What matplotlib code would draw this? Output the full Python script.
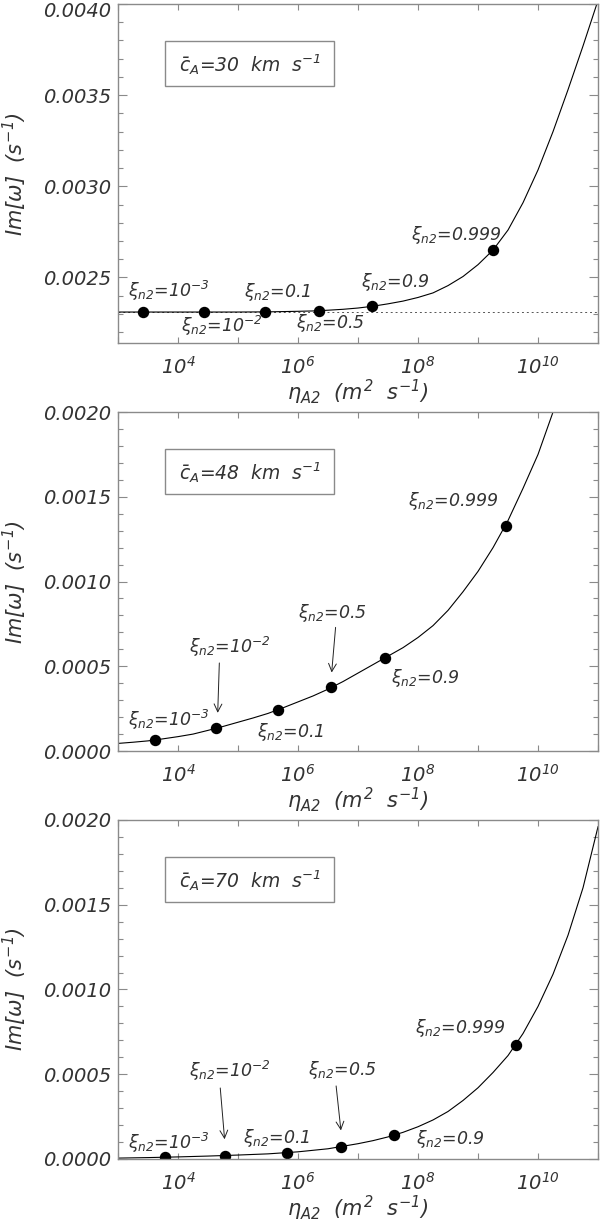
import numpy as np
import matplotlib
matplotlib.use("Agg")
import matplotlib.pyplot as plt
import matplotlib.ticker as mticker
import matplotlib.transforms as mtransforms
from matplotlib.patches import Rectangle

plt.rcParams['mathtext.fontset'] = 'custom'
plt.rcParams['mathtext.rm'] = 'DejaVu Sans:italic'
plt.rcParams['mathtext.it'] = 'DejaVu Sans:italic'
plt.rcParams['font.family'] = ['DejaVu Sans']

TXT = '#333333'
FRAME = '#8a8a8a'

# alfven speeds of the three panels
speeds = [30, 48, 70]

# labels of the marked points
xi_labels = [r'$\xi_{n2}$=10$^{-3}$', r'$\xi_{n2}$=10$^{-2}$', r'$\xi_{n2}$=0.1',
             r'$\xi_{n2}$=0.5', r'$\xi_{n2}$=0.9', r'$\xi_{n2}$=0.999']

# marked points: log10(eta_A2), Im[omega]
pts_logeta_30 = [3.41, 4.43, 5.455, 6.35, 7.24, 9.25]
pts_im_30 = [0.00231, 0.00231, 0.00231, 0.002318, 0.002342, 0.00265]
pts_logeta_48 = [3.62, 4.625, 5.66, 6.557, 7.445, 9.46]
pts_im_48 = [0.000065, 0.000134, 0.000243, 0.000377, 0.00055, 0.001325]
pts_logeta_70 = [3.78, 4.79, 5.82, 6.72, 7.60, 9.63]
pts_im_70 = [0.00001, 0.00002, 0.000037, 0.000071, 0.000142, 0.000673]

# curves (log10(eta_A2), Im[omega])
curve_logeta_30 = [3.0, 4.0, 5.0, 5.5, 6.0, 6.25, 6.5, 6.75, 7.0, 7.25, 7.5, 7.75,
                   8.0, 8.25, 8.5, 8.75, 9.0, 9.25, 9.5, 9.75, 10.0, 10.25, 10.5,
                   10.75, 11.0]
curve_im_30 = [0.00231, 0.00231, 0.00231, 0.002311, 0.002314, 0.002316, 0.00232,
               0.002325, 0.002332, 0.002342, 0.002355, 0.00237, 0.00239, 0.002415,
               0.002455, 0.002505, 0.00257, 0.00265, 0.00276, 0.00291, 0.00309,
               0.0033, 0.00353, 0.00377, 0.00402]
curve_logeta_48 = [3.0, 3.25, 3.5, 3.75, 4.0, 4.25, 4.5, 4.75, 5.0, 5.25, 5.5, 5.75,
                   6.0, 6.25, 6.5, 6.75, 7.0, 7.25, 7.5, 7.75, 8.0, 8.25, 8.5, 8.75,
                   9.0, 9.25, 9.5, 9.75, 10.0, 10.25]
curve_im_48 = [0.000045, 0.000052, 0.00006, 0.000072, 0.000085, 0.0001, 0.000122,
               0.000145, 0.00017, 0.000195, 0.000222, 0.000255, 0.00029, 0.000325,
               0.000365, 0.00041, 0.00046, 0.00051, 0.00056, 0.00061, 0.00067,
               0.00074, 0.00083, 0.00094, 0.00106, 0.0012, 0.00136, 0.00155,
               0.00175, 0.002]
curve_logeta_70 = [3.0, 3.5, 4.0, 4.5, 5.0, 5.5, 6.0, 6.5, 7.0, 7.25, 7.5, 7.75, 8.0,
                   8.25, 8.5, 8.75, 9.0, 9.25, 9.5, 9.75, 10.0, 10.25, 10.5, 10.75,
                   11.0]
curve_im_70 = [0.000005, 0.000008, 0.000012, 0.000017, 0.000023, 0.00003, 0.000042,
               0.00006, 0.00009, 0.000108, 0.00013, 0.000157, 0.00019, 0.00023,
               0.00028, 0.000345, 0.00042, 0.00051, 0.00061, 0.00074, 0.0009,
               0.00109, 0.00132, 0.0016, 0.00196]

# label anchors (left edge, vertical centre): log10(eta), Im[omega]
lab_logeta_30 = [3.167, 4.057, 5.095, 5.96, 7.045, 7.88]
lab_im_30 = [0.002425, 0.002235, 0.00242, 0.00225, 0.002475, 0.002733]
lab_logeta_48 = [3.16, 4.18, 5.31, 6.0, 7.557, 7.84]
lab_im_48 = [0.000184, 0.000615, 0.000111, 0.000815, 0.00043, 0.001475]
lab_logeta_70 = [3.16, 4.18, 5.09, 6.17, 7.97, 7.95]
lab_im_70 = [0.0000965, 0.00052, 0.000126, 0.000526, 0.000116, 0.000772]

# arrows (from -> to) for panels 2 and 3
arr_48 = [((4.69, 0.000536), (4.66, 0.000209)), ((6.63, 0.000746), (6.557, 0.000447))]
arr_70 = [((4.70, 0.000435), (4.78, 0.000100)), ((6.63, 0.000447), (6.72, 0.000152))]

baseline_30 = 0.00231
ylims = [(0.00214, 0.0040), (0.0, 0.0020), (0.0, 0.0020)]


def x_fmt(val, pos):
    e = int(round(np.log10(val)))
    return r'$10^{%d}$' % e if e % 2 == 0 else ''


def draw_panel(ax, speed, cx, cy, px, py, lx, ly, arrows, ylim, baseline=None):
    ax.set_xscale('log')
    ax.set_xlim(1e3, 1e11)
    ax.set_ylim(*ylim)

    if baseline is not None:
        ax.axhline(baseline, color='#555555', lw=0.7, ls=(0, (2, 3)))
    ax.plot(10 ** np.array(cx), cy, color='black', lw=0.8)
    ax.plot(10 ** np.array(px), py, 'o', color='black', ms=7.2)

    for t, x, y in zip(xi_labels, lx, ly):
        ax.text(10 ** x, y, t, ha='left', va='center', fontsize=12.5,
                style='italic', color=TXT)
    for (x0, y0), (x1, y1) in arrows:
        ax.annotate('', xy=(10 ** x1, y1), xytext=(10 ** x0, y0),
                    arrowprops=dict(arrowstyle='->', color='#222222', lw=0.7,
                                    mutation_scale=14))

    ax.add_patch(Rectangle((0.0975, 0.758), 0.3515, 0.134, transform=ax.transAxes,
                           fill=False, edgecolor=FRAME, lw=1.0))
    ax.text(0.1275, 0.822, r'$\bar{c}_A$=%d  km  s$^{-1}$' % speed,
            transform=ax.transAxes, ha='left', va='center', fontsize=13.5,
            style='italic', color=TXT)

    ax.xaxis.set_major_locator(mticker.LogLocator(base=10, subs=(1.0,), numticks=20))
    ax.xaxis.set_minor_locator(mticker.NullLocator())
    ax.xaxis.set_major_formatter(mticker.FuncFormatter(x_fmt))
    ax.yaxis.set_major_locator(mticker.MultipleLocator(0.0005))
    ax.yaxis.set_minor_locator(mticker.MultipleLocator(0.0001))
    ax.yaxis.set_major_formatter(mticker.FormatStrFormatter('%.4f'))

    ax.tick_params(axis='both', which='both', direction='in', top=True, right=True,
                   color=FRAME, labelcolor=TXT)
    ax.tick_params(axis='x', which='major', length=4.5, width=0.8, pad=9, labelsize=14)
    ax.tick_params(axis='y', which='major', length=6.5, width=0.8, pad=5, labelsize=14)
    ax.tick_params(axis='y', which='minor', length=3.5, width=0.8)
    for lab in ax.get_yticklabels():
        lab.set_fontstyle('italic')

    for s in ax.spines.values():
        s.set_color(FRAME)
        s.set_linewidth(1.0)

    ax.set_ylabel(r'$Im[\omega]\ \ (s^{-1})$', fontsize=15, color=TXT, va='center')
    ax.yaxis.set_label_coords(-0.215, 0.5)
    ax.set_xlabel(r'$\eta_{A2}\ \ (m^{2}\ \ s^{-1})$', fontsize=15, color=TXT,
                  va='center')
    ax.xaxis.set_label_coords(0.5, -0.145)


fig = plt.figure(figsize=(6, 12.22), dpi=100)
fig.patch.set_facecolor('white')
bottoms = [0.7193, 0.3854, 0.0516]
axes = [fig.add_axes([0.1967, b, 0.8, 0.2774]) for b in bottoms]

draw_panel(axes[0], speeds[0], curve_logeta_30, curve_im_30, pts_logeta_30, pts_im_30,
           lab_logeta_30, lab_im_30, [], ylims[0], baseline=baseline_30)
draw_panel(axes[1], speeds[1], curve_logeta_48, curve_im_48, pts_logeta_48, pts_im_48,
           lab_logeta_48, lab_im_48, arr_48, ylims[1])
draw_panel(axes[2], speeds[2], curve_logeta_70, curve_im_70, pts_logeta_70, pts_im_70,
           lab_logeta_70, lab_im_70, arr_70, ylims[2])

# keep the topmost tick label of the first panel inside the figure
fig.canvas.draw()
shift = mtransforms.ScaledTranslation(0, -4 / 72, fig.dpi_scale_trans)
for tick in axes[0].yaxis.get_major_ticks():
    if abs(tick.get_loc() - 0.0040) < 1e-9:
        tick.label1.set_transform(tick.label1.get_transform() + shift)

fig.savefig('out.png', dpi=100)
plt.close(fig)
